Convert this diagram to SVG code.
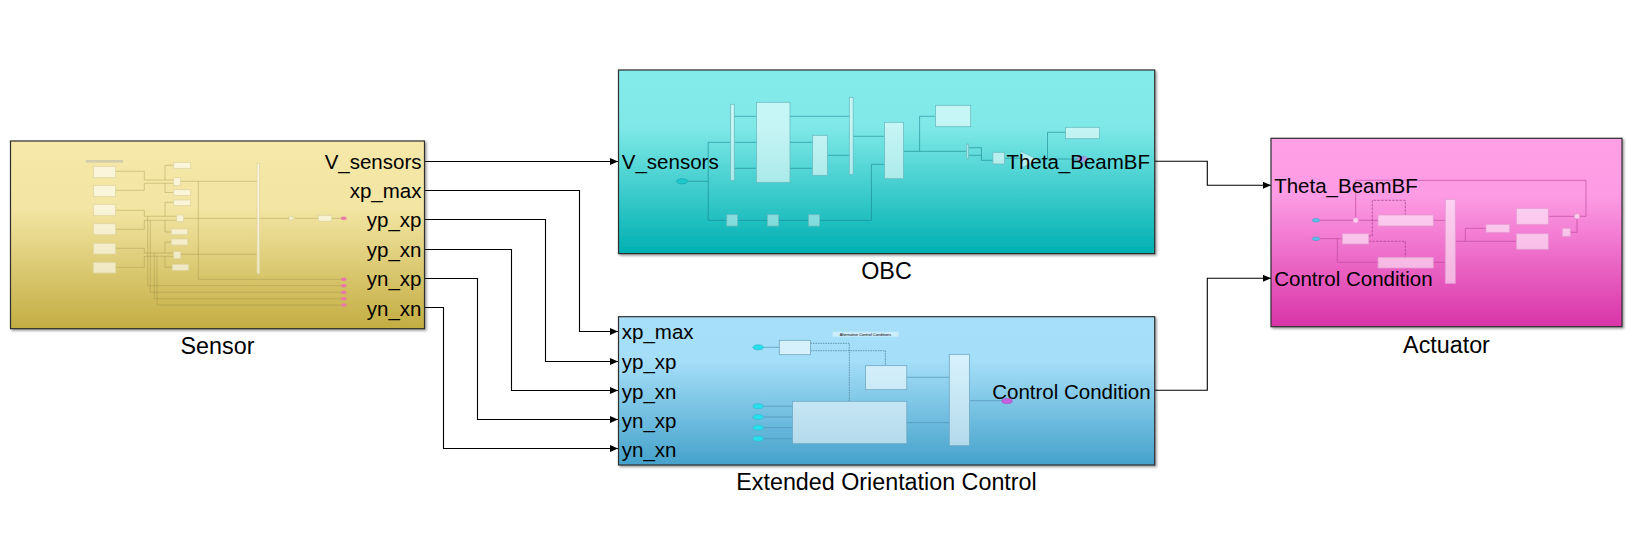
<svg xmlns="http://www.w3.org/2000/svg" width="1637" height="554" viewBox="0 0 1637 554">
<style>
text{font-family:"Liberation Sans",Arial,sans-serif;fill:#000}
.port{font-size:20.5px}
.name{font-size:23.3px;text-anchor:middle}
.end{text-anchor:end}
.block{stroke:#2f2f2f;stroke-width:1.2}
.conn{fill:none;stroke:#000;stroke-width:1.1;marker-end:url(#arrow)}
.s-l{fill:none;stroke:#a2924a;stroke-opacity:.6;stroke-width:.7}
.s-r{fill:#fff;fill-opacity:.58;stroke:#e0d5a0;stroke-width:.8}
.o-l{fill:none;stroke:#15808a;stroke-opacity:.7;stroke-width:.8}
.o-r{fill:#fff;fill-opacity:.55;stroke:#6cbcc0;stroke-width:.8}
.o-q{fill:#fff;fill-opacity:.45;stroke:#6cbcc0;stroke-width:.8}
.e-l{fill:none;stroke:#4b8fae;stroke-opacity:.8;stroke-width:.8}
.e-d{fill:none;stroke:#4f7f98;stroke-width:.8;stroke-dasharray:1.5 1}
.e-r{fill:#fff;fill-opacity:.55;stroke:#6fa9c4;stroke-width:.8}
.a-l{fill:none;stroke:#b8479b;stroke-opacity:.8;stroke-width:.8}
.a-d{fill:none;stroke:#a03c8a;stroke-width:.7;stroke-dasharray:2.5 1.2}
.a-r{fill:#fff;fill-opacity:.55;stroke:#e59bd2;stroke-width:.8}
</style>
<defs>
<marker id="arrow" markerWidth="8" markerHeight="7" refX="8" refY="3.5" orient="auto" markerUnits="userSpaceOnUse"><path d="M0 0L8 3.5L0 7Z" fill="#000"/></marker>
<linearGradient id="gs" x1="0" y1="0" x2="0" y2="1"><stop offset="0" stop-color="#f5e8a8"/><stop offset=".35" stop-color="#f3e6a4"/><stop offset="1" stop-color="#c3ad42"/></linearGradient>
<linearGradient id="go" x1="0" y1="0" x2="0" y2="1"><stop offset="0" stop-color="#84ebea"/><stop offset=".3" stop-color="#80e9e8"/><stop offset="1" stop-color="#00b0b2"/></linearGradient>
<linearGradient id="ge" x1="0" y1="0" x2="0" y2="1"><stop offset="0" stop-color="#a7dff9"/><stop offset=".3" stop-color="#a4def8"/><stop offset="1" stop-color="#45a2cb"/></linearGradient>
<linearGradient id="ga" x1="0" y1="0" x2="0" y2="1"><stop offset="0" stop-color="#ff9fe6"/><stop offset=".3" stop-color="#fd9ce4"/><stop offset="1" stop-color="#d934a8"/></linearGradient>
<filter id="sh" x="-3%" y="-3%" width="106%" height="106%"><feDropShadow dx="1.5" dy="1.5" stdDeviation="1.2" flood-color="#000" flood-opacity=".4"/></filter>
</defs>

<g id="connectors">
<path class="conn" d="M424.5 161.5H618"/>
<path class="conn" d="M424.5 190.5H579.5V331.5H618"/>
<path class="conn" d="M424.5 219.5H545.5V361.5H618"/>
<path class="conn" d="M424.5 249.5H511.5V390.5H618"/>
<path class="conn" d="M424.5 278.5H477.5V419.5H618"/>
<path class="conn" d="M424.5 307.5H443.5V448.5H618"/>
<path class="conn" d="M1154.7 161.3H1207.3V185.3H1271"/>
<path class="conn" d="M1154.7 390.3H1207.3V278.3H1271"/>
</g>

<g id="sensor">
<rect class="block" x="10.5" y="141" width="414" height="187.7" fill="url(#gs)" filter="url(#sh)"/>
<path class="s-l" d="M115.7 171.3H144.3V180H173.7M115.7 190.3H144.3V183.3H173.7M165 180V165.3H173.7M165 183.3V192.5H173.7M180.7 181.3H257M198.3 181.3V279.3H341M115.7 210.3H144.3V216.3H176.7M115.7 229.3H144.3V220.3H176.7M165 216.3V202.3H173.7M165 220.3V232H171.3M183.7 218.3H289.3M295 218.3H318.3M331.7 218.3H341M115.7 248.3H144.3V253H173.7M115.7 267.3H144.3V256.3H173.7M165 253V242H171.3M165 256.3V267.3H172.3M180.7 254.3H257M147.7 216.3V285.7H341M150.3 220.3V292.3H341M154.3 253V298.7H341M157 256.3V305H341"/>
<rect x="86" y="160" width="37" height="2.6" fill="#c9c4ac" fill-opacity=".8"/>
<rect class="s-r" x="93.3" y="166.3" width="22.4" height="11.4"/>
<rect class="s-r" x="93.3" y="185.3" width="22.4" height="11.4"/>
<rect class="s-r" x="93.3" y="204.3" width="22.4" height="11.4"/>
<rect class="s-r" x="93.3" y="223.7" width="22.4" height="11"/>
<rect class="s-r" x="93.3" y="243.3" width="22.4" height="10.7"/>
<rect class="s-r" x="93.3" y="262.3" width="22.4" height="10.7"/>
<rect class="s-r" x="173.7" y="162.3" width="17" height="6.4"/>
<rect class="s-r" x="173.7" y="177.7" width="7" height="8"/>
<rect class="s-r" x="173.7" y="189.7" width="17" height="6"/>
<rect class="s-r" x="173.7" y="200" width="17" height="5.7"/>
<rect class="s-r" x="176.7" y="215" width="7" height="6.7"/>
<rect class="s-r" x="171.3" y="229" width="16.4" height="5.7"/>
<rect class="s-r" x="171.3" y="239" width="16.4" height="6"/>
<rect class="s-r" x="173.7" y="251.7" width="7" height="7"/>
<rect class="s-r" x="172.3" y="264.3" width="16.4" height="6"/>
<rect class="s-r" x="257" y="163.3" width="2.7" height="110"/>
<path class="s-r" d="M289.3 215.7L295 218.3L289.3 221Z"/>
<rect class="s-r" x="318.3" y="215.3" width="13.4" height="6"/>
<g fill="#e878a8"><ellipse cx="343.8" cy="218.3" rx="2.9" ry="1.7"/><ellipse cx="343.8" cy="279.3" rx="2.9" ry="1.7"/><ellipse cx="343.8" cy="285.7" rx="2.9" ry="1.7"/><ellipse cx="343.8" cy="292.3" rx="2.9" ry="1.7"/><ellipse cx="343.8" cy="298.7" rx="2.9" ry="1.7"/><ellipse cx="343.8" cy="305" rx="2.9" ry="1.7"/></g>
<text class="port end" x="421.5" y="169">V_sensors</text>
<text class="port end" x="421.5" y="198">xp_max</text>
<text class="port end" x="421.5" y="227">yp_xp</text>
<text class="port end" x="421.5" y="257">yp_xn</text>
<text class="port end" x="421.5" y="286">yn_xp</text>
<text class="port end" x="421.5" y="315.5">yn_xn</text>
<text class="name" x="217.5" y="353.5">Sensor</text>
</g>

<g id="obc">
<rect class="block" x="618.5" y="70" width="536.2" height="183.6" fill="url(#go)" filter="url(#sh)"/>
<path class="o-l" d="M687.5 181.3H708.2M708.2 142.3V220.3M708.2 142.3H730.4M708.2 220.3H726.8M737.5 220.3H767.5M778.6 220.3H808.6M819.6 220.3H871.4V164.3H884.6M734.3 116.3H756.4M734.3 142.3H756.4M734.3 168.3H756.4M790 116.3H849.3M790 142.3H812.5M790 168.3H812.5M827.5 155.3H849.3M853.2 136.3H884.6M903.6 151.3H966.8M919.6 151.3V116.3H935.4M968.6 147.7H981.4V160.3H992.9M968.6 155.3H981.4M1004.6 158.3H1020.7M1038.6 159H1077M1047.5 159V132.3H1065.4"/>
<ellipse cx="682" cy="181.3" rx="5.5" ry="2.6" fill="#1fc8cc" stroke="#12a8ac" stroke-width=".7"/>
<rect class="o-r" x="730.4" y="104.3" width="3.9" height="76"/>
<rect class="o-r" x="756.4" y="102.3" width="33.6" height="80"/>
<rect class="o-r" x="812.5" y="135.3" width="15" height="40"/>
<rect class="o-r" x="849.3" y="97.3" width="3.9" height="77"/>
<rect class="o-r" x="884.6" y="122.3" width="19" height="56.4"/>
<rect class="o-r" x="935.4" y="105.3" width="35.3" height="21.4"/>
<rect class="o-r" x="966.8" y="144" width="1.8" height="14.7"/>
<rect class="o-r" x="992.9" y="152.3" width="11.7" height="11.7"/>
<path class="o-r" d="M1020.7 151.3L1038.6 159.8L1020.7 168.3Z"/>
<rect class="o-r" x="1065.4" y="127.3" width="34.2" height="11.4"/>
<rect class="o-q" x="726.8" y="214.7" width="10.7" height="11.3"/>
<rect class="o-q" x="767.5" y="214.7" width="11.1" height="11.3"/>
<rect class="o-q" x="808.6" y="214.7" width="11" height="11.3"/>
<ellipse cx="1082.5" cy="159" rx="5.5" ry="2.8" fill="#a79be2" stroke="#8a7fd0" stroke-width=".6"/>
<text class="port" x="621.8" y="169">V_sensors</text>
<text class="port end" x="1150" y="169">Theta_BeamBF</text>
<text class="name" x="886.5" y="278.5">OBC</text>
</g>

<g id="extended-orientation-control">
<rect class="block" x="618.5" y="316.7" width="536.2" height="148.3" fill="url(#ge)" filter="url(#sh)"/>
<path class="e-l" d="M763.6 347.3H779.3M763.6 406.3H792.5M763.6 417H792.5M763.6 427.7H792.5M763.6 438.7H792.5M906.8 377.3H949.3M906.8 422.7H949.3M969.6 400.7H1001.8"/>
<path class="e-d" d="M810.4 343.3H849.3V401.3M810.4 350.7H885.4V365.7"/>
<rect x="832.5" y="331.7" width="66" height="5" fill="#fff" fill-opacity=".45"/>
<text x="865.5" y="335.6" font-size="3.9" text-anchor="middle" fill="#555">Alternative Control Conditions</text>
<rect class="e-r" x="779.3" y="340.3" width="31.1" height="14.4"/>
<rect class="e-r" x="865.4" y="365.7" width="41.4" height="24"/>
<rect class="e-r" x="792.5" y="401.3" width="114.3" height="42.4"/>
<rect class="e-r" x="949.3" y="354.3" width="20.3" height="91.4"/>
<g fill="#26e0ee" stroke="#35b6c8" stroke-width=".6"><ellipse cx="758.2" cy="347.3" rx="5.3" ry="2.6"/><ellipse cx="758.2" cy="406.3" rx="5.3" ry="2.6"/><ellipse cx="758.2" cy="417" rx="5.3" ry="2.6"/><ellipse cx="758.2" cy="427.7" rx="5.3" ry="2.6"/><ellipse cx="758.2" cy="438.7" rx="5.3" ry="2.6"/></g>
<ellipse cx="1007" cy="401" rx="5.2" ry="2.6" fill="#c660e2" stroke="#a74cc4" stroke-width=".6"/>
<text class="port" x="621.8" y="339">xp_max</text>
<text class="port" x="621.8" y="369">yp_xp</text>
<text class="port" x="621.8" y="398.5">yp_xn</text>
<text class="port" x="621.8" y="427.5">yn_xp</text>
<text class="port" x="621.8" y="457">yn_xn</text>
<text class="port end" x="1150.6" y="398.5">Control Condition</text>
<text class="name" x="886.5" y="490">Extended Orientation Control</text>
</g>

<g id="actuator">
<rect class="block" x="1271" y="138.3" width="351" height="188.4" fill="url(#ga)" filter="url(#sh)"/>
<path class="a-l" d="M1320 220.3H1378M1355.7 220.3V180.3H1586V216.3H1577M1548.3 216.3H1577M1570.3 232.3H1577V216.3M1320 238.7H1342.3M1337.3 238.7V262.3H1378M1433.3 220.3H1445.3M1433.3 262.3H1445.3M1455.3 241.3H1516.3M1465.3 241.3V228.3H1486"/>
<path class="a-d" d="M1368.7 236H1372.3V200.3H1405.3V215M1368.7 241.3H1405.3V257.3"/>
<rect class="a-r" x="1378" y="215" width="55.3" height="11"/>
<rect class="a-r" x="1342.3" y="233.7" width="26.4" height="10.3"/>
<rect class="a-r" x="1378" y="257.3" width="55.3" height="10.7"/>
<rect class="a-r" x="1445.3" y="199.3" width="10" height="84"/>
<rect class="a-r" x="1486" y="224.3" width="23.7" height="8"/>
<rect class="a-r" x="1516.3" y="208.3" width="32" height="16"/>
<rect class="a-r" x="1516.3" y="233.7" width="32" height="15.6"/>
<rect class="a-r" x="1562.3" y="228.3" width="8" height="8"/>
<circle cx="1355.7" cy="220.3" r="2.6" fill="#fbd0ee" stroke="#e59bd2" stroke-width=".6"/>
<circle cx="1577" cy="216.3" r="2.6" fill="#fbd0ee" stroke="#e59bd2" stroke-width=".6"/>
<g fill="#5cbce8" stroke="#4a9cc8" stroke-width=".6"><ellipse cx="1316" cy="220.3" rx="3.8" ry="1.8"/><ellipse cx="1316" cy="238.7" rx="3.8" ry="1.8"/></g>
<text class="port" x="1274.2" y="193">Theta_BeamBF</text>
<text class="port" x="1274.2" y="286">Control Condition</text>
<text class="name" x="1446.5" y="352.5">Actuator</text>
</g>
</svg>
